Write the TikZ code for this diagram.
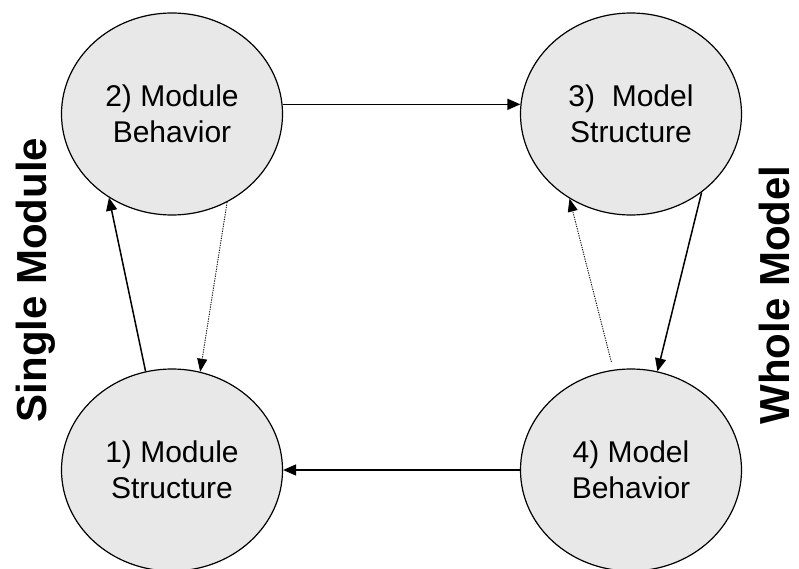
\documentclass[tikz,border=0pt]{standalone}
\usepackage{fontspec}
\setmainfont{Liberation Sans}
\usetikzlibrary{shapes.geometric,arrows.meta}
\definecolor{phasefill}{RGB}{232,232,232}
\tikzset{
  phase/.style={ellipse,draw,line width=1.2pt,fill=phasefill,
    minimum width=221pt,minimum height=202pt,inner sep=0pt,align=center,
    font=\fontsize{30}{36}\selectfont},
  flow/.style={line width=1.5pt,-{Triangle[length=13pt,width=11pt]}},
  backflow/.style={line width=0.9pt,dash pattern=on 1.2pt off 1.2pt,
    -{Triangle[length=13pt,width=10pt]}},
  sidelabel/.style={rotate=90,anchor=base,inner sep=0pt,
    font=\fontsize{42}{50}\selectfont\bfseries}
}
\begin{document}
\begin{tikzpicture}[x=1pt,y=-1pt]
\useasboundingbox (0,0) rectangle (799,569);
\foreach \name/\x/\y/\txt in {ms/172/470/{1) Module\\Structure},
  mb/172/114/{2) Module\\Behavior},
  ds/631/114/{3)~~Model\\Structure},
  db/631/470/{4) Model\\Behavior}} % edit here for the phases
\node[phase] (\name) at (\x,\y) {\txt};
% solid cycle
\draw[flow] (ms.105) -- (mb.-127);
\draw[flow] (mb.5) -- (ds.175);
\draw[flow] (ds.-48) -- (db.75);
\draw[flow] (db.west) -- (ms.east);
% dotted way back
\draw[backflow] (mb.-58) -- (ms.74);
\draw[backflow,shorten <=8pt] (db.100) -- (ds.-126);
% sides
\node[sidelabel] (single) at (46,280) {Single Module};
\node[sidelabel] (whole) at (789,295) {Whole Model};
\end{tikzpicture}
\end{document}
